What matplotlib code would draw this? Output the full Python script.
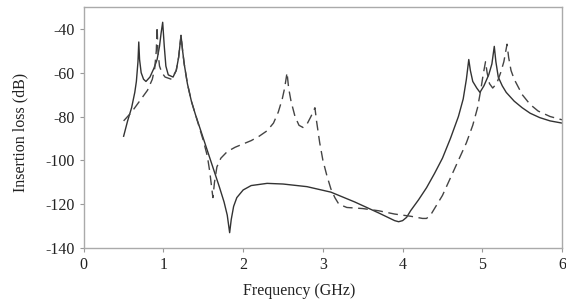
import matplotlib
matplotlib.use("Agg")
import matplotlib.pyplot as plt

# Solid curve (frequency GHz, insertion loss dB)
solid_f = [0.5, 0.55, 0.6, 0.64, 0.66, 0.68, 0.69, 0.7, 0.72, 0.75, 0.78, 0.83, 0.88, 0.92,
           0.95, 0.97, 0.99, 1.01, 1.03, 1.06, 1.12, 1.16, 1.19, 1.22,
           1.24, 1.26, 1.3, 1.35, 1.4, 1.5, 1.6, 1.7, 1.76, 1.8, 1.83, 1.85, 1.88, 1.92,
           2.0, 2.1, 2.3, 2.5, 2.8, 3.1, 3.4, 3.7, 3.9, 3.95, 4.0, 4.05, 4.1, 4.2, 4.3,
           4.4, 4.5, 4.6, 4.7, 4.76, 4.8, 4.82, 4.83, 4.85, 4.88, 4.93, 4.97, 5.02, 5.08,
           5.12, 5.15, 5.17, 5.2, 5.25, 5.3, 5.4, 5.5, 5.6, 5.72, 5.85, 6.0]
solid_db = [-89, -82, -76, -69, -64, -55, -46, -54, -60, -63, -64, -62, -58, -54,
            -48, -42, -37, -48, -57, -61, -62, -59, -53, -43,
            -50, -56, -65, -73, -79, -90, -101, -112, -119, -125, -133, -127, -121, -117,
            -113.5, -111.5, -110.5, -110.8, -112, -114.5, -119, -124, -127.5, -128, -127.5, -126, -123, -118, -112.5,
            -106, -99, -90, -80, -72, -63, -57, -54, -59, -64, -67, -69, -66, -61,
            -56, -48, -55, -62, -66, -69, -73, -76, -78.5, -80.5, -82, -83]

# Dashed curve
dash_f = [0.5, 0.6, 0.7, 0.8, 0.86, 0.89, 0.91, 0.92, 0.93, 0.95, 0.98, 1.02, 1.1, 1.16,
          1.19, 1.22, 1.24, 1.26, 1.3, 1.35, 1.4, 1.5, 1.55, 1.58, 1.6, 1.62, 1.64, 1.67,
          1.72, 1.8, 1.9, 2.0, 2.1, 2.2, 2.3, 2.38, 2.44, 2.49, 2.52, 2.55, 2.57, 2.6,
          2.65, 2.7, 2.75, 2.8, 2.85, 2.9, 2.92, 2.96, 3.0, 3.05, 3.1, 3.15, 3.2, 3.3,
          3.5, 3.7, 3.9, 4.1, 4.25, 4.3, 4.35, 4.4, 4.5, 4.6, 4.7, 4.8, 4.88, 4.94,
          4.98, 5.01, 5.04, 5.06, 5.09, 5.13, 5.18, 5.23, 5.27, 5.29, 5.31, 5.33, 5.36,
          5.4, 5.5, 5.6, 5.7, 5.85, 6.0]
dash_db = [-82, -78, -73, -68, -63, -58, -50, -39, -50, -57, -60, -62, -63, -59,
           -53, -43, -50, -56, -65, -73, -79, -91, -98, -105, -111, -117, -110, -103,
           -99, -96, -94, -92.5, -91, -89, -86.5, -83, -78, -72, -67, -60, -67, -73,
           -80, -84, -85, -83.5, -80, -76, -82, -92, -100, -107, -113, -117, -120, -121.5,
           -122, -123, -124.5, -125.5, -126.5, -126.5, -125, -122, -116, -108, -100, -92, -84, -76,
           -68, -61, -55, -60, -65, -67, -65, -60, -55, -51, -47, -53, -59,
           -63, -70, -74.5, -77.5, -80, -81.5]

x_ticks = [0, 1, 2, 3, 4, 5, 6]
y_ticks = [-140, -120, -100, -80, -60, -40]

plt.rcParams['font.family'] = ['Liberation Serif', 'DejaVu Serif']
plt.rcParams['axes.unicode_minus'] = False

fig = plt.figure(figsize=(5.66, 3.01), dpi=100)
ax = fig.add_axes([0.148, 0.176, 0.845, 0.801])

ax.plot(solid_f, solid_db, color='#333333', lw=1.0)
ax.plot(dash_f, dash_db, color='#444444', lw=1.0, dashes=(7, 4))

ax.set_xlim(0, 6)
ax.set_ylim(-140, -30)
ax.set_xticks(x_ticks)
ax.set_yticks(y_ticks)
ax.tick_params(axis='both', labelsize=11.5, length=3, width=0.8, colors='#999999',
               labelcolor='#222222', direction='out')
for s in ax.spines.values():
    s.set_color('#aaaaaa')
    s.set_linewidth(1.0)

ax.set_xlabel('Frequency (GHz)', fontsize=11.5, color='#222222', labelpad=0)
ax.xaxis.set_label_coords(0.45, -0.145)
ax.set_ylabel('Insertion loss (dB)', fontsize=11.5, color='#222222')
ax.yaxis.set_label_coords(-0.115, 0.48)

fig.savefig('out.png', dpi=100)
